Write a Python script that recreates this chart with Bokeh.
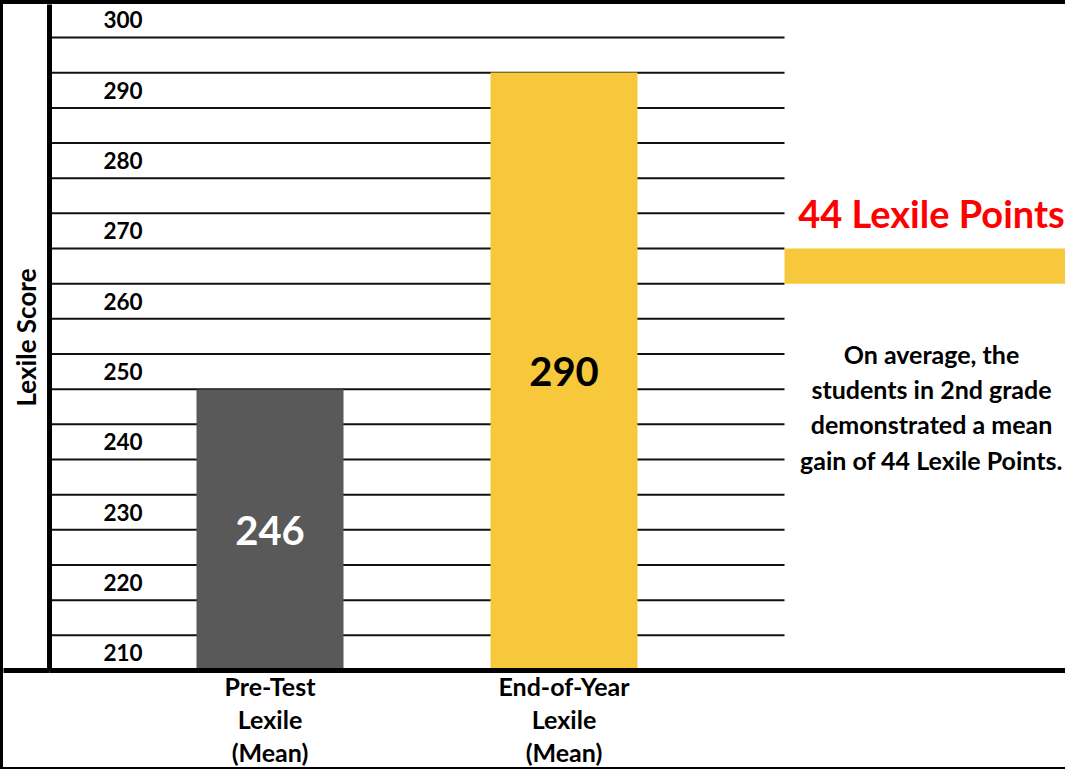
from bokeh.plotting import figure
from bokeh.models import Range1d, FixedTicker, ColumnDataSource
from bokeh.core.properties import value
from bokeh.embed import file_html
from bokeh.resources import INLINE
import numpy as np

# ---------------- data ----------------
categories = ["Pre-Test\nLexile\n(Mean)", "End-of-Year\nLexile\n(Mean)"]
scores = [246, 290]
bar_colors = ["#595959", "#F7C83B"]
value_label_colors = ["#FFFFFF", "#000000"]
tick_values = [300, 290, 280, 270, 260, 250, 240, 230, 220, 210]
tick_labels = ["300", "290", "280", "270", "260", "250", "240", "230", "220", "210"]
y_title = "Lexile Score"
gain = scores[1] - scores[0]
gain_title = f"{gain} Lexile Points"
summary_lines = ["On average, the", "students in 2nd grade",
                 "demonstrated a mean", f"gain of {gain} Lexile Points."]

# ---------------- layout ----------------
FONT = value("Lato")
W, H = 1065, 769
score_range = Range1d(207.0, 299.44)      # scale of the bars
cell_range = Range1d(207.5, 302.2)        # scale of the label cells / rules
x_range = Range1d(0.25, 0.25 + 1019 / 294)

p = figure(width=W, height=H, x_range=x_range, y_range=cell_range,
           output_backend="svg", toolbar_location=None,
           min_border_left=46, min_border_right=0, min_border_top=0,
           min_border_bottom=103)
p.extra_y_ranges = {"score": score_range}
p.styles = {"border-top": "4px solid #000", "border-left": "3px solid #000",
            "border-bottom": "2px solid #000"}
p.outline_line_color = None
p.xgrid.visible = False
p.ygrid.visible = False
p.background_fill_color = "white"
p.border_fill_color = "white"

xs = np.arange(1, len(scores) + 1)

# horizontal rules
grid_y = np.arange(212.5, 300, 5.0)
p.segment(x0=x_range.start, x1=xs[-1] + 0.75, y0=grid_y, y1=grid_y,
          line_color="#111111", line_width=2)

# bars
src = ColumnDataSource(dict(
    x=xs, top=scores, color=bar_colors,
    mid=[(score_range.start + s) / 2 for s in scores],
    label=[str(s) for s in scores], lc=value_label_colors))
p.vbar(x="x", top="top", bottom=score_range.start, width=0.5,
       fill_color="color", line_color=None, y_range_name="score", source=src)
p.text(x="x", y="mid", text="label", text_color="lc", text_font=FONT,
       text_font_style="bold", text_font_size="40px", text_align="center",
       text_baseline="middle", y_range_name="score", source=src)

# tick labels inside the first column
p.text(x=0.5, y=tick_values, text=tick_labels, text_font=FONT,
       text_font_style="bold", text_font_size="22.5px", text_color="black",
       text_align="center", text_baseline="middle")

# right-hand summary panel
p.quad(left=xs[-1] + 0.75, right=xs[-1] + 1.75, bottom=262.5, top=267.5,
       fill_color=bar_colors[1], line_color=None)
p.text(x=xs[-1] + 1.25, y=[272.5], text=[gain_title], text_color="#FF0000",
       text_font=FONT, text_font_style="bold", text_font_size="38px",
       text_align="center", text_baseline="middle")
p.text(x=xs[-1] + 1.25, y=[252.5, 247.5, 242.5, 237.5], text=summary_lines,
       text_color="black", text_font=FONT, text_font_style="bold",
       text_font_size="25px", text_align="center", text_baseline="middle")

# y axis: thick rule, title, and one long outward tick that continues the base rule
ya = p.yaxis[0]
ya.ticker = FixedTicker(ticks=[cell_range.start])
ya.major_label_overrides = {cell_range.start: ""}
ya.major_label_standoff = 0
ya.axis_label = y_title
ya.axis_label_text_font = "Lato"
ya.axis_label_text_font_style = "bold"
ya.axis_label_text_font_size = "26px"
ya.axis_label_text_color = "black"
ya.axis_label_standoff = -38
ya.axis_line_width = 5
ya.axis_line_color = "black"
ya.major_tick_out = 46
ya.major_tick_in = 0
ya.major_tick_line_width = 5
ya.major_tick_line_color = "black"
ya.minor_tick_out = 0
ya.minor_tick_in = 0

xa = p.xaxis[0]
xa.ticker = FixedTicker(ticks=[float(x) for x in xs])
xa.major_label_overrides = {float(x): c for x, c in zip(xs, categories)}
xa.major_label_text_font = "Lato"
xa.major_label_text_font_style = "bold"
xa.major_label_text_font_size = "25px"
xa.major_label_text_color = "black"
xa.major_label_text_line_height = 1.1
xa.major_label_standoff = 0
xa.major_tick_out = 0
xa.major_tick_in = 0
xa.minor_tick_out = 0
xa.minor_tick_in = 0
xa.axis_line_width = 5
xa.axis_line_color = "black"

open("out.html", "w").write(file_html(p, INLINE))
